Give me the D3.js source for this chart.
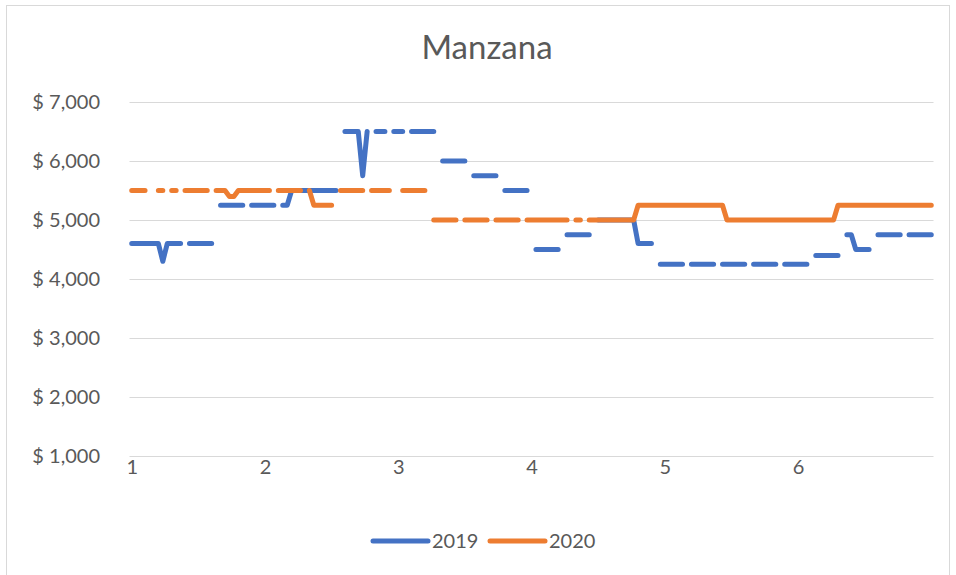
<!DOCTYPE html>
<html><head><meta charset="utf-8">
<script src="https://cdn.jsdelivr.net/npm/d3@7"></script>
<style>
body{margin:0;background:#fff;}
svg text{font-family:Lato,"Open Sans",sans-serif;fill:#595959;}
</style>
</head><body>
<svg id="chart" width="956" height="575"></svg>
<script>
const chartTitle = "Manzana";
const seriesNames = ["2019", "2020"];
const seriesColors = ["#4472C4", "#ED7D31"];
const xTickLabels = ["1", "2", "3", "4", "5", "6"];
const xTickIndex = [0, 30, 60, 90, 120, 150];
const yTicks = [1000, 2000, 3000, 4000, 5000, 6000, 7000];

const values2019 = [
  4600,4600,4600,4600,4600,4600,4600,
  4300,4600,4600,4600,4600,null,4600,
  4600,4600,4600,4600,4600,null,5250,
  5250,5250,5250,5250,5250,null,5250,
  5250,5250,5250,5250,5250,null,5250,
  5250,5500,5500,5500,5500,5500,5500,
  5500,5500,5500,5500,5500,null,6500,
  6500,6500,6500,5750,6500,null,6500,
  6500,6500,null,6500,6500,6500,null,
  6500,6500,6500,6500,6500,6500,null,
  6000,6000,6000,6000,6000,6000,null,
  5750,5750,5750,5750,5750,5750,null,
  5500,5500,5500,5500,5500,5500,null,
  4500,4500,4500,4500,4500,4500,null,
  4750,4750,4750,4750,4750,4750,null,
  5000,5000,5000,5000,5000,5000,5000,
  5000,5000,4600,4600,4600,4600,null,
  4250,4250,4250,4250,4250,4250,null,
  4250,4250,4250,4250,4250,4250,null,
  4250,4250,4250,4250,4250,4250,null,
  4250,4250,4250,4250,4250,4250,null,
  4250,4250,4250,4250,4250,4250,null,
  4400,4400,4400,4400,4400,4400,null,
  4750,4750,4500,4500,4500,4500,null,
  4750,4750,4750,4750,4750,4750,null,
  4750,4750,4750,4750,4750,4750
];

const values2020 = [
  5500,5500,5500,5500,null,null,5500,
  5500,null,5500,5500,null,5500,5500,
  5500,5500,5500,5500,null,5500,5500,
  5500,5400,5400,5500,5500,5500,5500,
  5500,5500,5500,5500,null,5500,5500,
  5500,5500,5500,5500,null,5500,5250,
  5250,5250,5250,5250,null,5500,5500,
  5500,5500,5500,5500,null,5500,5500,
  5500,5500,5500,null,null,5500,5500,
  5500,5500,5500,5500,null,5000,5000,
  5000,5000,5000,5000,null,5000,5000,
  5000,5000,5000,5000,null,5000,5000,
  5000,5000,5000,5000,null,5000,5000,
  5000,5000,5000,5000,5000,5000,5000,
  5000,null,5000,5000,null,5000,5000,
  5000,5000,5000,5000,5000,5000,5000,
  5000,5000,5250,5250,5250,5250,5250,
  5250,5250,5250,5250,5250,5250,5250,
  5250,5250,5250,5250,5250,5250,5250,
  5250,5000,5000,5000,5000,5000,5000,
  5000,5000,5000,5000,5000,5000,5000,
  5000,5000,5000,5000,5000,5000,5000,
  5000,5000,5000,5000,5000,5250,5250,
  5250,5250,5250,5250,5250,5250,5250,
  5250,5250,5250,5250,5250,5250,5250,
  5250,5250,5250,5250,5250,5250
];

const series = [values2019, values2020];
const N = values2019.length;

const svg = d3.select("#chart");

// chart border
svg.append("rect").attr("x", 6.5).attr("y", 5.5).attr("width", 943).attr("height", 580)
  .attr("fill", "#fff").attr("stroke", "#D9D9D9").attr("stroke-width", 1);

const x = d3.scaleLinear().domain([-0.5, N - 0.5]).range([129.5, 933.5]);
const y = d3.scaleLinear().domain([1000, 7000]).range([456, 102]);

// gridlines
svg.append("g").selectAll("line").data(yTicks).join("line")
  .attr("x1", x(-0.5)).attr("x2", x(N - 0.5))
  .attr("y1", d => Math.round(y(d)) + 0.5).attr("y2", d => Math.round(y(d)) + 0.5)
  .attr("stroke", "#D9D9D9").attr("stroke-width", 1);

// y axis labels
const yAxis = d3.axisLeft(y).tickValues(yTicks).tickSize(0).tickPadding(0)
  .tickFormat(d => "$ " + d3.format(",")(d));
const gy = svg.append("g").attr("transform", "translate(100,0)").call(yAxis);
gy.select(".domain").remove();
gy.selectAll("text").attr("font-size", 20).attr("fill", "#595959")
  .style("font-family", "Lato, 'Open Sans', sans-serif");

// x axis labels
const xAxis = d3.axisBottom(x).tickValues(xTickIndex).tickSize(0).tickPadding(0)
  .tickFormat((d, i) => xTickLabels[i]);
const gx = svg.append("g").attr("transform", "translate(0,457)").call(xAxis);
gx.select(".domain").remove();
gx.selectAll("text").attr("font-size", 20).attr("fill", "#595959").attr("dy", "0.85em")
  .style("font-family", "Lato, 'Open Sans', sans-serif");

// lines
const line = d3.line().defined(d => d != null).x((d, i) => x(i)).y(d => y(d));
svg.append("g").selectAll("path").data(series).join("path")
  .attr("d", d => line(d))
  .attr("fill", "none")
  .attr("stroke", (d, i) => seriesColors[i])
  .attr("stroke-width", 5)
  .attr("stroke-linecap", "round")
  .attr("stroke-linejoin", "round");

// title
svg.append("text").attr("x", 487).attr("y", 59).attr("text-anchor", "middle")
  .attr("font-size", 33).text(chartTitle);

// legend
const legendX = [373, 490];
const lg = svg.append("g").selectAll("g").data(seriesNames).join("g")
  .attr("transform", (d, i) => `translate(${legendX[i]},541)`);
lg.append("line").attr("x1", 0).attr("x2", 55).attr("y1", 0).attr("y2", 0)
  .attr("stroke", (d, i) => seriesColors[i]).attr("stroke-width", 5).attr("stroke-linecap", "round");
lg.append("text").attr("x", 59).attr("y", 0).attr("dy", "0.35em")
  .attr("font-size", 20).text(d => d);
</script>
</body></html>
